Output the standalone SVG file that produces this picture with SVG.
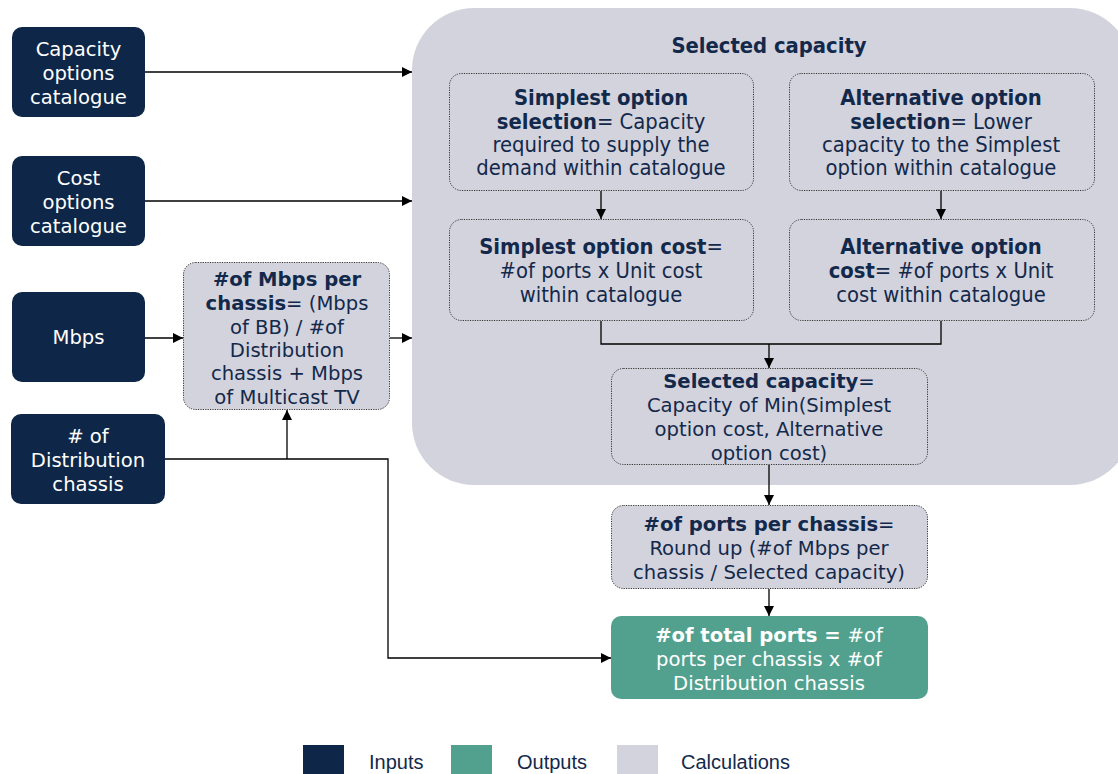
<svg xmlns="http://www.w3.org/2000/svg" width="1118" height="774" viewBox="0 0 1118 774">
<style>
.in{fill:#0E2748}
.calc{fill:#D3D3DD;stroke:#333;stroke-width:1;stroke-dasharray:1.2 1.2}
.out{fill:#52A18E}
.t{font-family:"DejaVu Sans","Verdana",sans-serif;font-size:19.6px;text-anchor:middle}
.w{fill:#FFFFFF}
.d{fill:#13294B}
.c{font-family:"DejaVu Sans Condensed","DejaVu Sans",sans-serif;font-stretch:condensed;font-size:21.8px;text-anchor:middle;fill:#13294B}
.b{font-weight:bold}
.lg{font-family:"Liberation Sans",Arial,sans-serif;font-size:20px;fill:#13294B}
.ln{fill:none;stroke:#000;stroke-width:1.3}
</style>
<defs>
<marker id="ah" viewBox="0 0 10 10" refX="10" refY="5" markerWidth="10" markerHeight="10" markerUnits="userSpaceOnUse" orient="auto">
<path d="M0,0 L10,5 L0,10 z" fill="#000"/>
</marker>
</defs>

<g id="container">
<rect x="412" y="8" width="720" height="477" rx="62" fill="#D3D3DD"/>
<text class="c b" x="769" y="53">Selected capacity</text>
</g>

<g id="cap-cat">
<rect class="in" x="12" y="27" width="133" height="90" rx="10"/>
<text class="t w" x="78.5" y="56">Capacity</text>
<text class="t w" x="78.5" y="80">options</text>
<text class="t w" x="78.5" y="104">catalogue</text>
</g>
<g id="cost-cat">
<rect class="in" x="12" y="156" width="133" height="90" rx="10"/>
<text class="t w" x="78.5" y="185">Cost</text>
<text class="t w" x="78.5" y="209">options</text>
<text class="t w" x="78.5" y="233">catalogue</text>
</g>
<g id="mbps">
<rect class="in" x="12" y="292" width="133" height="90" rx="10"/>
<text class="t w" x="78.5" y="344">Mbps</text>
</g>
<g id="dist">
<rect class="in" x="11" y="414" width="154" height="90" rx="10"/>
<text class="t w" x="88" y="443">#  of</text>
<text class="t w" x="88" y="467">Distribution</text>
<text class="t w" x="88" y="491">chassis</text>
</g>

<g id="mbps-per-chassis">
<rect class="calc" x="183.5" y="262.5" width="206" height="147" rx="12"/>
<text class="t d" x="287" y="286"><tspan class="b">#of Mbps per</tspan></text>
<text class="t d" x="287" y="310"><tspan class="b">chassis</tspan>= (Mbps</text>
<text class="t d" x="287" y="334">of BB) / #of</text>
<text class="t d" x="287" y="357">Distribution</text>
<text class="t d" x="287" y="380">chassis + Mbps</text>
<text class="t d" x="287" y="404">of Multicast TV</text>
</g>

<g id="simplest-sel">
<rect class="calc" x="449.5" y="73.5" width="304" height="117" rx="12"/>
<text class="c" x="601" y="105"><tspan class="b">Simplest option</tspan></text>
<text class="c" x="601" y="129"><tspan class="b">selection</tspan>= Capacity</text>
<text class="c" x="601" y="152">required to supply the</text>
<text class="c" x="601" y="175">demand within catalogue</text>
</g>
<g id="alt-sel">
<rect class="calc" x="789.5" y="73.5" width="305" height="117" rx="12"/>
<text class="c" x="941" y="105"><tspan class="b">Alternative option</tspan></text>
<text class="c" x="941" y="129"><tspan class="b">selection</tspan>= Lower</text>
<text class="c" x="941" y="152">capacity to the Simplest</text>
<text class="c" x="941" y="175">option within catalogue</text>
</g>
<g id="simplest-cost">
<rect class="calc" x="449.5" y="219.5" width="304" height="101" rx="12"/>
<text class="c" x="601" y="254"><tspan class="b">Simplest option cost</tspan>=</text>
<text class="c" x="601" y="278">#of ports x Unit cost</text>
<text class="c" x="601" y="302">within catalogue</text>
</g>
<g id="alt-cost">
<rect class="calc" x="789.5" y="219.5" width="305" height="101" rx="12"/>
<text class="c" x="941" y="254"><tspan class="b">Alternative option</tspan></text>
<text class="c" x="941" y="278"><tspan class="b">cost</tspan>= #of ports x Unit</text>
<text class="c" x="941" y="302">cost within catalogue</text>
</g>

<g id="selected">
<rect class="calc" x="611.5" y="368.5" width="316" height="96" rx="12"/>
<text class="t d" x="769" y="388"><tspan class="b">Selected capacity</tspan>=</text>
<text class="t d" x="769" y="412">Capacity of Min(Simplest</text>
<text class="t d" x="769" y="436">option cost, Alternative</text>
<text class="t d" x="769" y="460">option cost)</text>
</g>
<g id="ports-per-chassis">
<rect class="calc" x="611.5" y="505.5" width="316" height="83" rx="12"/>
<text class="t d" x="769" y="531"><tspan class="b">#of ports per chassis</tspan>=</text>
<text class="t d" x="769" y="555">Round up (#of Mbps per</text>
<text class="t d" x="769" y="579">chassis / Selected capacity)</text>
</g>
<g id="total-ports">
<rect class="out" x="611" y="616" width="317" height="83" rx="10"/>
<text class="t w" x="769" y="642"><tspan class="b">#of total ports = </tspan>#of</text>
<text class="t w" x="769" y="666">ports per chassis x #of</text>
<text class="t w" x="769" y="690">Distribution chassis</text>
</g>

<g id="connectors">
<path class="ln" d="M145,72 H412" marker-end="url(#ah)"/>
<path class="ln" d="M145,201 H412" marker-end="url(#ah)"/>
<path class="ln" d="M145,338 H183" marker-end="url(#ah)"/>
<path class="ln" d="M390,338 H412" marker-end="url(#ah)"/>
<path class="ln" d="M165,459 H388 V658 H611" marker-end="url(#ah)"/>
<path class="ln" d="M287,459 V410" marker-end="url(#ah)"/>
<path class="ln" d="M601,191 V219" marker-end="url(#ah)"/>
<path class="ln" d="M941,191 V219" marker-end="url(#ah)"/>
<path class="ln" d="M601,321 V344 H941 V321"/>
<path class="ln" d="M769,344 V368" marker-end="url(#ah)"/>
<path class="ln" d="M769,465 V505" marker-end="url(#ah)"/>
<path class="ln" d="M769,589 V616" marker-end="url(#ah)"/>
</g>

<g id="legend">
<rect x="303" y="745" width="41" height="29" fill="#0E2748"/>
<text class="lg" x="369" y="769">Inputs</text>
<rect x="451" y="745" width="41" height="29" fill="#52A18E"/>
<text class="lg" x="517" y="769">Outputs</text>
<rect x="617" y="745" width="41" height="29" fill="#D3D3DD"/>
<text class="lg" x="681" y="769">Calculations</text>
</g>
</svg>
